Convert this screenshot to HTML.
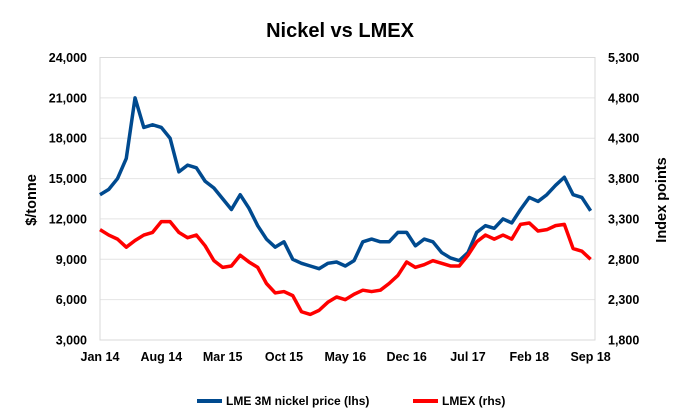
<!DOCTYPE html>
<html><head><meta charset="utf-8"><style>
body{margin:0;background:#fff;}
svg{display:block;font-family:"Liberation Sans",sans-serif;font-weight:bold;}
</style></head><body>
<svg id="c" width="700" height="420">
<text x="340" y="37" text-anchor="middle" font-size="20">Nickel vs LMEX</text>
<g id="grid"></g><g id="axes"></g><g id="series"></g>
<text transform="translate(36,200) rotate(-90)" text-anchor="middle" font-size="14.5">$/tonne</text>
<text transform="translate(666,200) rotate(-90)" text-anchor="middle" font-size="14.5">Index points</text>
<g>
<line x1="197" y1="401" x2="222" y2="401" stroke="#004a8f" stroke-width="4"/>
<text x="226" y="405" font-size="12">LME 3M nickel price (lhs)</text>
<line x1="413" y1="401" x2="438" y2="401" stroke="#ff0000" stroke-width="4"/>
<text x="442" y="405" font-size="12">LMEX (rhs)</text>
</g>
</svg>
<script>
const xLabels=["Jan 14","Aug 14","Mar 15","Oct 15","May 16","Dec 16","Jul 17","Feb 18","Sep 18"];
const leftTicks=[3000,6000,9000,12000,15000,18000,21000,24000];
const rightTicks=[1800,2300,2800,3300,3800,4300,4800,5300];
const nickel=[13800,14200,15000,16500,21000,18800,19000,18800,18000,15500,16000,15800,14800,14300,13500,12700,13800,12800,11500,10500,9900,10300,9000,8700,8500,8300,8700,8800,8500,8900,10300,10500,10300,10300,11000,11000,10000,10500,10300,9500,9100,8900,9500,11000,11500,11300,12000,11700,12700,13600,13300,13800,14500,15100,13800,13600,12600];
const lmex=[3167,3100,3050,2950,3033,3100,3133,3267,3267,3133,3067,3100,2967,2783,2700,2717,2850,2767,2700,2500,2383,2400,2350,2150,2117,2167,2267,2333,2300,2367,2417,2400,2417,2500,2600,2767,2700,2733,2783,2750,2717,2717,2850,3017,3100,3050,3100,3050,3233,3250,3150,3167,3217,3233,2933,2900,2800];
const X0=100,X1=595,Y0=340,Y1=57.5;
const xs=m=>X0+m*(X1-X0)/56.5;
const yl=v=>Y0-(v-3000)/21000*(Y0-Y1);
const yr=v=>Y0-(v-1800)/3500*(Y0-Y1);
const NS="http://www.w3.org/2000/svg";
function mk(t,a,p){const e=document.createElementNS(NS,t);for(const k in a)e.setAttribute(k,a[k]);p.appendChild(e);return e;}
const grid=document.getElementById('grid'),axes=document.getElementById('axes'),ser=document.getElementById('series');
leftTicks.forEach((v,i)=>{
 const g=mk('line',{x1:X0,x2:X1,y1:yl(v),y2:yl(v),stroke:'#e4e4e4','stroke-width':1},grid);
 
 
 const t=mk('text',{x:87,y:yl(v)+4.5,'text-anchor':'end','font-size':12.5},axes);t.textContent=v.toLocaleString('en-US');
 
 
});
rightTicks.forEach(v=>{
 const t=mk('text',{x:608,y:yr(v)+4.5,'font-size':12.5},axes);t.textContent=v.toLocaleString('en-US');
 
 
});
const b=mk('rect',{x:X0,y:Y1,width:X1-X0,height:Y0-Y1,fill:'none',stroke:'#d9d9d9'},grid);


xLabels.forEach((s,i)=>{
 const t=mk('text',{x:xs(i*7),y:361,'text-anchor':'middle','font-size':12.5},axes);t.textContent=s;
 
 
});
const p1=mk('polyline',{points:nickel.map((v,i)=>xs(i)+','+yl(v)).join(' '),fill:'none',stroke:'#004a8f','stroke-width':3.5,'stroke-linejoin':'round'},ser);


const p2=mk('polyline',{points:lmex.map((v,i)=>xs(i)+','+yr(v)).join(' '),fill:'none',stroke:'#ff0000','stroke-width':3.5,'stroke-linejoin':'round'},ser);


</script>
</body></html>
